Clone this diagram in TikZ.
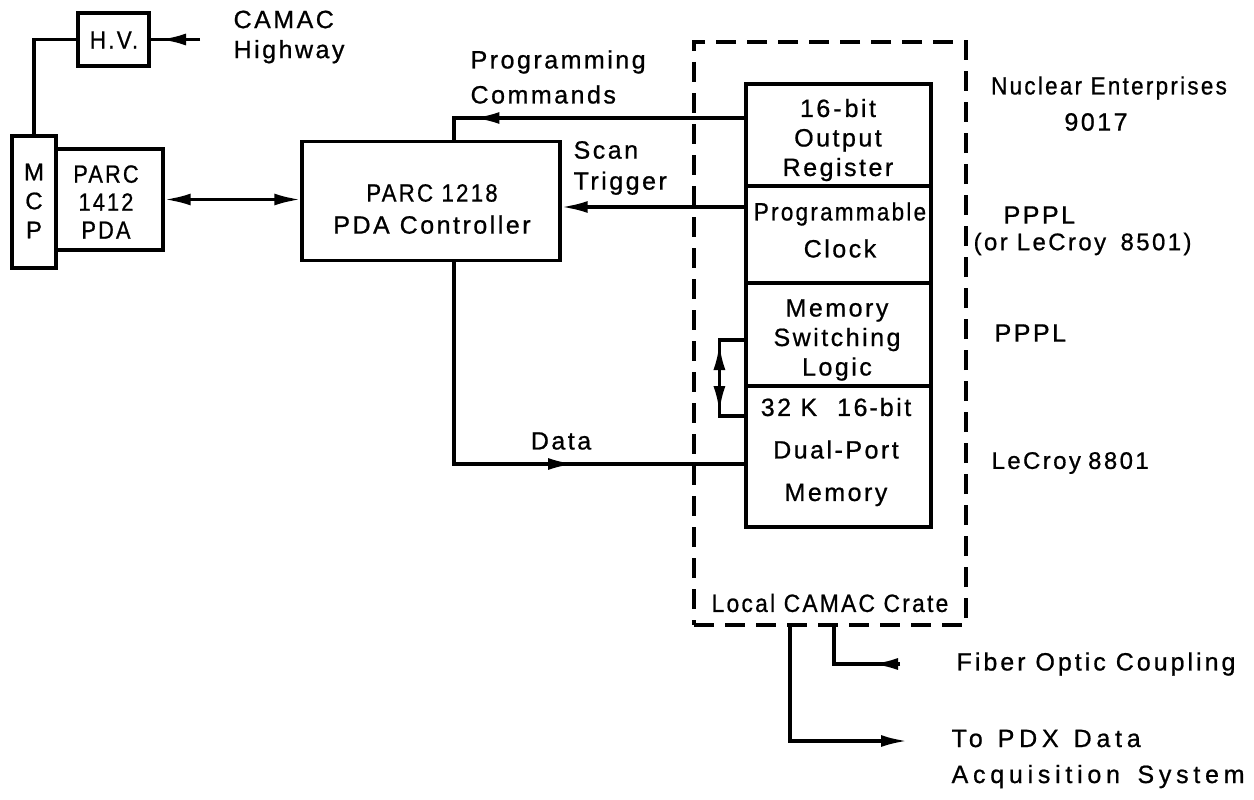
\documentclass[tikz,border=0pt]{standalone}
\usepackage{graphicx}
\usepackage{fontspec}
\setmainfont{Liberation Sans}[LetterSpace=10, FakeBold=0.8]
\newfontfamily\fibfont{Liberation Sans}[LetterSpace=12, FakeBold=0.8]
\newfontfamily\widefont{Liberation Sans}[LetterSpace=19, FakeBold=0.8]
\newcommand{\sqz}[2]{\scalebox{#1}[1]{#2}}
\usetikzlibrary{arrows.meta,decorations.markings}
\tikzset{
  box/.style={draw, rectangle, inner sep=0pt},
  txt/.style={inner sep=0pt, align=center},
  lbl/.style={inner sep=0pt, align=left},
  tipend/.style={-{Latex[length=26pt,width=12pt]}},
  both/.style={{Latex[length=26pt,width=12pt]}-{Latex[length=26pt,width=12pt]}},
  midarrow/.style={postaction={decorate}, decoration={markings,
     mark=at position #1 with {\arrow{Latex[length=26pt,width=12pt]}}}},
}
\begin{document}
\begin{tikzpicture}[x=1pt,y=-1pt,line width=3.2pt,
  font=\fontsize{25}{30}\selectfont]
\useasboundingbox (0,0) rectangle (1254,800);

% boxes
\node[box, minimum width=71pt, minimum height=53pt] (hv) at (113.5,39.5) {};
\node[box, minimum width=107pt, minimum height=101pt] (pda) at (109.5,199.5) {};
\node[box, minimum width=44pt, minimum height=132pt] (mcp) at (34,202) {};
\node[box, minimum width=258pt, minimum height=119pt] (ctrl) at (431,201) {};
\node[box, minimum width=272pt, minimum height=583pt, dash pattern=on 20pt off 11pt] (crate) at (830,333.5) {};
\node[box, minimum width=185pt, minimum height=102pt] (reg) at (838.5,135) {};
\node[box, minimum width=185pt, minimum height=97pt] (clk) at (838.5,234.5) {};
\node[box, minimum width=185pt, minimum height=103pt] (msl) at (838.5,334.5) {};
\node[box, minimum width=185pt, minimum height=141pt] (mem) at (838.5,456.5) {};

% box texts
\node[txt] (hvT) at (114,40) {\sqz{0.9}{H.V.}};
\node[txt, font=\fontsize{25}{28}\selectfont] (pdaT) at (106,202) {\sqz{0.87}{PARC}\\\sqz{0.87}{1412}\\\sqz{0.87}{PDA}};
\node[txt, font=\fontsize{24}{29}\selectfont] (mcpT) at (34,201) {M\\C\\P};
\node[txt, font=\fontsize{25}{32}\selectfont] (ctrlT) at (432,209) {\sqz{0.89}{PARC 1218}\\PDA\hspace{0.4em}Controller};
\node[txt, font=\fontsize{25}{29.5}\selectfont] (regT) at (838,140) {16\kern3pt-\kern3pt bit\\Output\\Register};
\node[txt, font=\fontsize{25}{37}\selectfont] (clkT) at (840,230) {\sqz{0.9}{Programmable}\\Clock};
\node[txt, font=\fontsize{25}{29.5}\selectfont] (mslT) at (837,340) {Memory\\Switching\\Logic};
\node[txt, font=\fontsize{25}{42.5}\selectfont] (memT) at (836,452) {32 K\hspace{0.8em}16\kern2pt-\kern2pt bit\\Dual-Port\\Memory};

% labels
\node[lbl, anchor=west] (hwyT) at (232,37) {CAMAC\\Highway};
\node[lbl, anchor=west, font=\fontsize{25}{35}\selectfont] (progT) at (469,77) {Programming\\Commands};
\node[lbl, anchor=west, font=\fontsize{25}{31}\selectfont] (scanT) at (572,168) {Scan\\Trigger};
\node[lbl] (dataT) at (561,441) {Data};
\node[lbl] (crateT) at (830,603) {\sqz{0.91}{Local CAMAC Crate}};
\node[lbl] (neT) at (1109,88) {\sqz{0.9}{Nuclear Enterprises}};
\node[lbl] (n9017) at (1096,122) {9017};
\node[lbl, anchor=west] (ppplA) at (1002,215) {PPPL};
\node[lbl, anchor=west, font=\fontsize{24}{30}\selectfont] (lecA) at (972,244) {(or LeCroy\hspace{0.6em}8501)};
\node[lbl, anchor=west] (ppplB) at (993,333) {PPPL};
\node[lbl, anchor=west, font=\fontsize{24}{30}\selectfont] (lecB) at (990,463) {LeCroy\hspace{0.3em}8801};
\node[lbl, anchor=west, font=\fibfont\fontsize{25}{30}\selectfont] (fibT) at (955,664) {Fiber Optic Coupling};
\node[lbl, anchor=west, font=\widefont\fontsize{25}{36}\selectfont] (pdxT) at (950,759) {To\hspace{0.6em}PDX\hspace{0.6em}Data\\Acquisition\hspace{0.7em}System};

% free ends
\coordinate (hwy) at (200,39.5);
\coordinate (fib) at (900,664);
\coordinate (pdx) at (907,741);

% connectors
\draw[midarrow=40pt] (hwy) -- (hv.east);
\draw (hv.west) -| (mcp.north);
\draw[both] (pda.east) -- (pda.east -| ctrl.west);
\draw[midarrow=271pt] ([yshift=17pt]reg.west) -| ([xshift=23pt]ctrl.north);
\draw[tipend] ([yshift=27.5pt]clk.west) -- ([yshift=27.5pt]clk.west -| ctrl.east);
\draw[midarrow=322pt] ([xshift=23pt]ctrl.south) |- ([yshift=-7.5pt]mem.west);
\coordinate (lt) at ([xshift=-25pt,yshift=-5.5pt]msl.west);
\coordinate (lb) at ([xshift=-25pt,yshift=40.5pt]mem.west);
\draw ([yshift=-5.5pt]msl.west) -- (lt) -- (lb) -- ([yshift=40.5pt]mem.west);
\draw[both] ([yshift=-4pt]lt) -- ([yshift=4pt]lb);
\draw[tipend] ([xshift=-40pt]crate.south) |- (pdx);
\draw[midarrow=28pt] (fib) -| ([xshift=4pt]crate.south);
\end{tikzpicture}
\end{document}
